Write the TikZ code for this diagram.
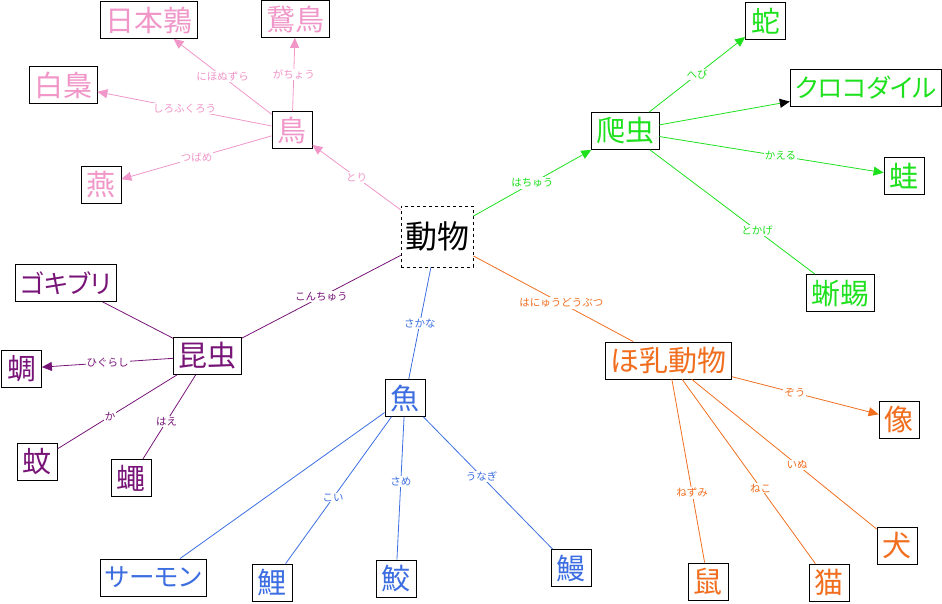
\documentclass[tikz,border=0pt]{standalone}
\usepackage{fontspec}
\setmainfont{Noto Sans CJK JP}
\usepackage{xcolor}
\usepackage{tikz}
\usetikzlibrary{arrows.meta,positioning}

\definecolor{birdpink}{RGB}{240,150,200}
\definecolor{reptgreen}{RGB}{30,225,30}
\definecolor{bugpurple}{RGB}{120,20,120}
\definecolor{fishblue}{RGB}{60,110,225}
\definecolor{mamorange}{RGB}{240,110,30}

\begin{document}
\begin{tikzpicture}[
    x=1pt, y=-1pt,
    leaf/.style={rectangle, draw=black, thick, fill=white, font=\fontsize{29}{29}\selectfont, inner xsep=5pt, inner ysep=3pt, minimum height=37pt, minimum width=40pt},
    kana/.style={leaf, font=\fontsize{25.5}{29}\selectfont\addfontfeature{CharacterWidth=AlternateProportional}},
    root/.style={rectangle, draw=black, thick, dashed, font=\fontsize{32}{32}\selectfont, inner xsep=4pt, minimum height=61pt},
    lbl/.style={font=\fontsize{10.5}{11}\selectfont, fill=white, inner sep=1pt},
    link/.style={line width=0.8pt},
    arr/.style={-{Triangle[length=10pt,width=9pt]}}
]
    \useasboundingbox (0,0) rectangle (942,604);

    \node (dobutsu) [root] at (437,236.5) {動物};

    % birds
    \node (tori)    [leaf, text=birdpink] at (292,130) {鳥};
    \node (nihon)   [leaf, text=birdpink] at (149,20) {日本鶉};
    \node (gacho)   [leaf, text=birdpink] at (295.5,19) {鵞鳥};
    \node (shiro)   [leaf, text=birdpink] at (63,85) {白梟};
    \node (tsubame) [leaf, text=birdpink] at (101,185) {燕};

    % reptiles
    \node (hachu)  [leaf, text=reptgreen] at (625,131) {爬虫};
    \node (hebi)   [leaf, text=reptgreen] at (765.5,21) {蛇};
    \node (kuro)   [kana, text=reptgreen] at (866,88) {クロコダイル};
    \node (kaeru)  [leaf, text=reptgreen] at (904,176) {蛙};
    \node (tokage) [leaf, text=reptgreen] at (840,293) {蜥蜴};

    % insects
    \node (konchu) [leaf, text=bugpurple] at (207.5,356) {昆虫};
    \node (goki)   [kana, text=bugpurple] at (66,283) {ゴキブリ};
    \node (higu)   [leaf, text=bugpurple] at (21.5,368.5) {蜩};
    \node (ka)     [leaf, text=bugpurple] at (37,461.5) {蚊};
    \node (hae)    [leaf, text=bugpurple] at (131,478) {蠅};

    % fish
    \node (sakana) [leaf, text=fishblue] at (405,398) {魚};
    \node (samon)  [kana, text=fishblue] at (153.5,577.5) {サーモン};
    \node (koi)    [leaf, text=fishblue] at (272,582.5) {鯉};
    \node (same)   [leaf, text=fishblue] at (396,578.5) {鮫};
    \node (unagi)  [leaf, text=fishblue] at (571,568) {鰻};

    % mammals
    \node (honyu)  [leaf, text=mamorange] at (668.5,360.5) {ほ乳動物};
    \node (zou)    [leaf, text=mamorange] at (899,419.5) {像};
    \node (inu)    [leaf, text=mamorange] at (897,545.5) {犬};
    \node (neko)   [leaf, text=mamorange] at (829,582.5) {猫};
    \node (nezumi) [leaf, text=mamorange] at (708,581.5) {鼠};

    % from the root
    \draw [link, arr, draw=birdpink, text=birdpink] (dobutsu) -- node[lbl] {とり} (tori);
    \draw [link, arr, draw=reptgreen, text=reptgreen] (dobutsu) -- node[lbl] {はちゅう} (hachu);
    \draw [link, draw=bugpurple, text=bugpurple] (dobutsu) -- node[lbl] {こんちゅう} (konchu);
    \draw [link, draw=fishblue, text=fishblue] (dobutsu) -- node[lbl] {さかな} (sakana);
    \draw [link, draw=mamorange, text=mamorange] (dobutsu) -- node[lbl, pos=.55] {はにゅうどうぶつ} (honyu);

    \draw [link, arr, draw=birdpink, text=birdpink] (tori) -- node[lbl] {にほぬずら} (nihon);
    \draw [link, arr, draw=birdpink, text=birdpink] (tori) -- node[lbl] {がちょう} (gacho);
    \draw [link, arr, draw=birdpink, text=birdpink] (tori) -- node[lbl] {しろふくろう} (shiro);
    \draw [link, arr, draw=birdpink, text=birdpink] (tori) -- node[lbl] {つばめ} (tsubame);

    \draw [link, arr, draw=reptgreen, text=reptgreen] (hachu) -- node[lbl] {へび} (hebi);
    \draw [link, -{Triangle[length=10pt,width=9pt,black]}, draw=reptgreen] (hachu) -- (kuro);
    \draw [link, arr, draw=reptgreen, text=reptgreen] (hachu) -- node[lbl, pos=.54] {かえる} (kaeru);
    \draw [link, draw=reptgreen, text=reptgreen] (hachu) -- node[lbl, pos=.65] {とかげ} (tokage);

    \draw [link, draw=bugpurple] (konchu) -- (goki);
    \draw [link, arr, draw=bugpurple, text=bugpurple] (konchu) -- node[lbl] {ひぐらし} (higu);
    \draw [link, draw=bugpurple, text=bugpurple] (konchu) -- node[lbl, pos=.56] {か} (ka);
    \draw [link, draw=bugpurple, text=bugpurple] (konchu) -- node[lbl, pos=.55] {はえ} (hae);

    \draw [link, draw=fishblue] (sakana) -- (samon);
    \draw [link, draw=fishblue, text=fishblue] (sakana) -- node[lbl, pos=.55] {こい} (koi);
    \draw [link, draw=fishblue, text=fishblue] (sakana) -- node[lbl, pos=.45] {さめ} (same);
    \draw [link, draw=fishblue, text=fishblue] (sakana) -- node[lbl, pos=.45] {うなぎ} (unagi);

    \draw [link, arr, draw=mamorange, text=mamorange] (honyu) -- node[lbl, pos=.43] {ぞう} (zou);
    \draw [link, draw=mamorange, text=mamorange] (honyu) -- node[lbl, pos=.57] {いぬ} (inu);
    \draw [link, draw=mamorange, text=mamorange] (honyu) -- node[lbl, pos=.59] {ねこ} (neko);
    \draw [link, draw=mamorange, text=mamorange] (honyu) -- node[lbl, pos=.62] {ねずみ} (nezumi);
\end{tikzpicture}
\end{document}
